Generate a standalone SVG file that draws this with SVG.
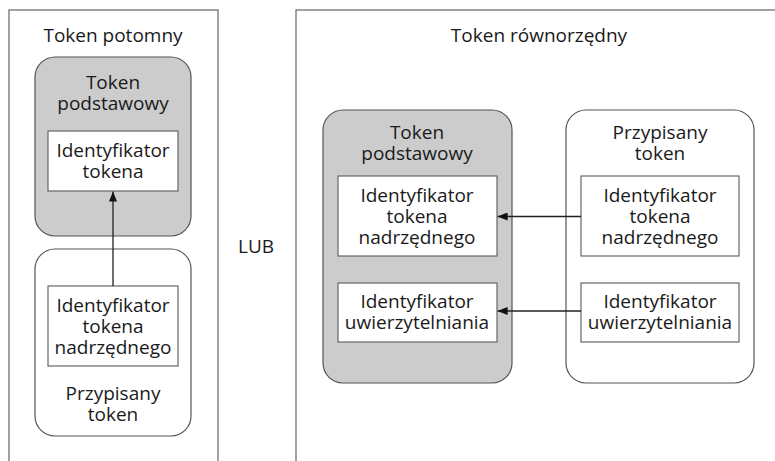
<svg xmlns="http://www.w3.org/2000/svg" width="775" height="461" viewBox="0 0 775 461">
<defs>
<style>
text{font-family:"Open Sans","Noto Sans","Liberation Sans",sans-serif;font-size:19px;fill:#1a1a1a;text-anchor:middle}
.panel{fill:#fff;stroke:#666;stroke-width:1.2}
.gray{fill:#cccccc;stroke:#555;stroke-width:1.2}
.white{fill:#fff;stroke:#555;stroke-width:1.2}
.inner{fill:#fff;stroke:#666;stroke-width:1.2}
.conn{stroke:#222;stroke-width:1.3;fill:none;marker-end:url(#arr)}
</style>
<marker id="arr" viewBox="0 0 10 8" refX="10" refY="4" markerWidth="10" markerHeight="8" markerUnits="userSpaceOnUse" orient="auto">
<path d="M0,0 L10,4 L0,8 z" fill="#111"/>
</marker>
</defs>
<rect width="775" height="461" fill="#fff"/>
<g id="panel-potomny">
<rect class="panel" x="9" y="10" width="209" height="470"/>
<text x="113" y="42">Token potomny</text>
</g>
<g id="panel-rownorzedny">
<rect class="panel" x="296" y="10" width="500" height="470"/>
<text x="539" y="42">Token równorzędny</text>
</g>
<g id="lub">
<text x="256" y="253">LUB</text>
</g>
<g id="left-base">
<rect class="gray" x="35" y="57" width="156" height="179" rx="20"/>
<text x="113" y="89">Token</text>
<text x="113" y="110">podstawowy</text>
</g>
<g id="left-base-id">
<rect class="inner" x="48" y="131" width="130" height="60"/>
<text x="113" y="157">Identyfikator</text>
<text x="113" y="178">tokena</text>
</g>
<g id="left-assigned">
<rect class="white" x="35" y="249" width="156" height="187" rx="20"/>
<text x="113" y="400">Przypisany</text>
<text x="113" y="421">token</text>
</g>
<g id="left-assigned-parent">
<rect class="inner" x="48" y="286" width="130" height="80"/>
<text x="113" y="312">Identyfikator</text>
<text x="113" y="333">tokena</text>
<text x="113" y="354">nadrzędnego</text>
</g>
<g id="right-base">
<rect class="gray" x="323" y="110" width="189" height="273" rx="20"/>
<text x="417" y="139">Token</text>
<text x="417" y="160">podstawowy</text>
</g>
<g id="right-base-parent">
<rect class="inner" x="338" y="176" width="159" height="80"/>
<text x="417" y="202">Identyfikator</text>
<text x="417" y="223">tokena</text>
<text x="417" y="244">nadrzędnego</text>
</g>
<g id="right-base-auth">
<rect class="inner" x="338" y="283" width="159" height="59"/>
<text x="417" y="308">Identyfikator</text>
<text x="417" y="329">uwierzytelniania</text>
</g>
<g id="right-assigned">
<rect class="white" x="566" y="110" width="188" height="273" rx="20"/>
<text x="660" y="139">Przypisany</text>
<text x="660" y="160">token</text>
</g>
<g id="right-assigned-parent">
<rect class="inner" x="581" y="176" width="158" height="80"/>
<text x="660" y="202">Identyfikator</text>
<text x="660" y="223">tokena</text>
<text x="660" y="244">nadrzędnego</text>
</g>
<g id="right-assigned-auth">
<rect class="inner" x="581" y="283" width="158" height="59"/>
<text x="660" y="308">Identyfikator</text>
<text x="660" y="329">uwierzytelniania</text>
</g>
<g id="connectors">
<line class="conn" x1="113" y1="286" x2="113" y2="191.6"/>
<line class="conn" x1="581" y1="216.5" x2="497.6" y2="216.5"/>
<line class="conn" x1="581" y1="311" x2="497.6" y2="311"/>
</g>
</svg>
